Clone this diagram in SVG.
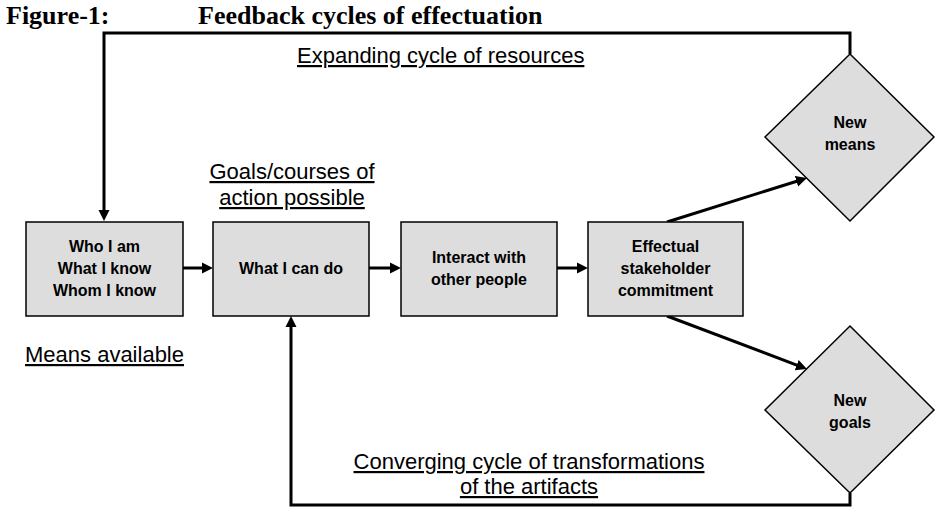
<svg xmlns="http://www.w3.org/2000/svg" width="940" height="516" viewBox="0 0 940 516">
<style>
.title{font-family:"Liberation Serif","Times New Roman",serif;font-weight:bold;font-size:26px;fill:#000}
.lbl{font-family:"Liberation Sans",Arial,sans-serif;font-size:22px;fill:#000;text-decoration:underline}
.nt{font-family:"Liberation Sans",Arial,sans-serif;font-weight:bold;font-size:16px;fill:#000;text-anchor:middle}
.box{fill:#dddddd;stroke:#000;stroke-width:1.5}
.conn{fill:none;stroke:#000;stroke-width:3}
</style>
<defs>
<marker id="arr" viewBox="0 0 10 10" markerUnits="userSpaceOnUse" markerWidth="11" markerHeight="14" refX="6.4" refY="5" orient="auto">
<path d="M0,0 L10,5 L0,10 z" fill="#000"/>
</marker>
</defs>
<rect width="940" height="516" fill="#fff"/>
<text class="title" x="6" y="24">Figure-1:</text>
<text class="title" x="198" y="24">Feedback cycles of effectuation</text>

<g id="connectors">
<path class="conn" d="M850,54 L850,33 L104,33 L104,217" marker-end="url(#arr)"/>
<path class="conn" d="M183,268 L209,268" marker-end="url(#arr)"/>
<path class="conn" d="M369,268 L397,268" marker-end="url(#arr)"/>
<path class="conn" d="M557,268 L584,268" marker-end="url(#arr)"/>
<path class="conn" d="M667,222 L803.2,179.2" marker-end="url(#arr)"/>
<path class="conn" d="M667,316 L803.3,367.6" marker-end="url(#arr)"/>
<path class="conn" d="M850,493 L850,505 L291,505 L291,320" marker-end="url(#arr)"/>
</g>

<g id="box-means">
<rect class="box" x="26" y="222" width="157" height="94"/>
<text class="nt" x="104.5" y="252">Who I am</text>
<text class="nt" x="104.5" y="274">What I know</text>
<text class="nt" x="104.5" y="296">Whom I know</text>
</g>
<g id="box-cando">
<rect class="box" x="213" y="222" width="156" height="94"/>
<text class="nt" x="291" y="274">What I can do</text>
</g>
<g id="box-interact">
<rect class="box" x="401" y="222" width="156" height="94"/>
<text class="nt" x="479" y="263">Interact with</text>
<text class="nt" x="479" y="285">other people</text>
</g>
<g id="box-commit">
<rect class="box" x="588" y="222" width="155" height="94"/>
<text class="nt" x="665.5" y="252">Effectual</text>
<text class="nt" x="665.5" y="274">stakeholder</text>
<text class="nt" x="665.5" y="296">commitment</text>
</g>
<g id="dia-newmeans">
<polygon class="box" points="850,54 934,137 850,221 765,137"/>
<text class="nt" x="850" y="128">New</text>
<text class="nt" x="850" y="150">means</text>
</g>
<g id="dia-newgoals">
<polygon class="box" points="850,326 934,410 850,493 765,410"/>
<text class="nt" x="850" y="406">New</text>
<text class="nt" x="850" y="428">goals</text>
</g>

<g id="labels">
<text class="lbl" x="297" y="63">Expanding cycle of resources</text>
<text class="lbl" x="292" y="179" text-anchor="middle">Goals/courses of</text>
<text class="lbl" x="292" y="205" text-anchor="middle">action possible</text>
<text class="lbl" x="25" y="362">Means available</text>
<text class="lbl" x="529" y="469" text-anchor="middle">Converging cycle of transformations</text>
<text class="lbl" x="529" y="494" text-anchor="middle">of the artifacts</text>
</g>
</svg>
